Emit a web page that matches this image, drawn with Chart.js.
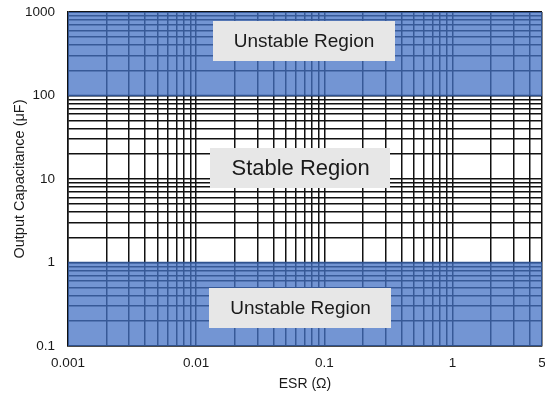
<!DOCTYPE html>
<html>
<head>
<meta charset="utf-8">
<script src="https://cdn.jsdelivr.net/npm/chart.js@4"></script>
<style>
  html, body { margin: 0; padding: 0; background: #fff; }
  #wrap { width: 545px; height: 396px; position: relative; }
</style>
</head>
<body>
<div id="wrap"><canvas id="c"></canvas></div>
<script>
// Axis extents: ESR in ohms, output capacitance in µF
const esrRange = [0.001, 5];
const capRange = [0.1, 1000];

// Capacitance bands where the regulator is unstable
const unstableHigh = [100, 1000];
const unstableLow = [0.1, 1];

// Log grid positions (every 1..9 per decade)
const esrGrid = [
  0.001, 0.002, 0.003, 0.004, 0.005, 0.006, 0.007, 0.008, 0.009,
  0.01, 0.02, 0.03, 0.04, 0.05, 0.06, 0.07, 0.08, 0.09,
  0.1, 0.2, 0.3, 0.4, 0.5, 0.6, 0.7, 0.8, 0.9,
  1, 2, 3, 4, 5
];
const capGrid = [
  0.1, 0.2, 0.3, 0.4, 0.5, 0.6, 0.7, 0.8, 0.9,
  1, 2, 3, 4, 5, 6, 7, 8, 9,
  10, 20, 30, 40, 50, 60, 70, 80, 90,
  100, 200, 300, 400, 500, 600, 700, 800, 900,
  1000
];

// Labelled ticks
const esrLabels = ['0.001', '0.01', '0.1', '1', '5'];
const capLabels = ['0.1', '1', '10', '100', '1000'];

// Region captions
const regionNames = ['Unstable Region', 'Stable Region', 'Unstable Region'];

const FONT = '"Liberation Sans", Arial, sans-serif';
const BAND_FILL = 'rgba(68, 114, 196, 0.75)';
const BAND_EDGE = '#2F528F';

function bandShape(xr, yr) {
  return [
    { x: xr[0], y: yr[0] },
    { x: xr[0], y: yr[1] },
    { x: xr[1], y: yr[1] },
    { x: xr[1], y: yr[0] },
    { x: xr[0], y: yr[0] }
  ];
}

function labelFor(list) {
  return (value) => {
    const hit = list.find(s => Math.abs(parseFloat(s) - value) < value * 1e-6);
    return hit === undefined ? '' : hit;
  };
}

// Captions anchored at data coordinates, drawn as grey boxes
const regionBoxes = {
  id: 'regionBoxes',
  afterDatasetsDraw(chart, args, opts) {
    const { ctx, scales: { x, y } } = chart;
    ctx.save();
    opts.items.forEach((it, i) => {
      const cx = x.getPixelForValue(it.x);
      const cy = y.getPixelForValue(it.y);
      ctx.font = it.size + 'px ' + FONT;
      const tw = ctx.measureText(regionNames[i]).width;
      const w = tw + 2 * it.padX;
      const h = it.height;
      ctx.fillStyle = '#E7E7E7';
      ctx.fillRect(Math.round(cx - w / 2), Math.round(cy - h / 2), Math.round(w), Math.round(h));
      ctx.fillStyle = '#1a1a1a';
      ctx.textAlign = 'center';
      ctx.textBaseline = 'middle';
      ctx.fillText(regionNames[i], cx, cy + 1);
    });
    ctx.restore();
  }
};

new Chart(document.getElementById('c'), {
  type: 'scatter',
  data: {
    datasets: [
      {
        data: bandShape(esrRange, unstableHigh),
        showLine: true,
        fill: 'shape',
        backgroundColor: BAND_FILL,
        borderColor: BAND_EDGE,
        borderWidth: 1.5,
        pointRadius: 0,
        tension: 0
      },
      {
        data: bandShape(esrRange, unstableLow),
        showLine: true,
        fill: 'shape',
        backgroundColor: BAND_FILL,
        borderColor: BAND_EDGE,
        borderWidth: 1.5,
        pointRadius: 0,
        tension: 0
      }
    ]
  },
  options: {
    responsive: true,
    maintainAspectRatio: false,
    animation: false,
    events: [],
    layout: { padding: { top: 12, right: 3, left: 0, bottom: 0 } },
    plugins: {
      legend: { display: false },
      tooltip: { enabled: false },
      regionBoxes: {
        items: [
          { x: 0.0695, y: 452, size: 19, padX: 21, height: 40 },
          { x: 0.0653, y: 13.6, size: 22, padX: 21, height: 40 },
          { x: 0.0653, y: 0.287, size: 19, padX: 21, height: 40 }
        ]
      }
    },
    scales: {
      x: {
        type: 'logarithmic',
        min: esrRange[0],
        max: esrRange[1],
        afterBuildTicks: (s) => { s.ticks = esrGrid.map(v => ({ value: v })); },
        afterFit: (s) => { s.height = 50; s.paddingLeft = 0; s.paddingRight = 0; },
        grid: { color: '#111', lineWidth: 1.5, drawTicks: false },
        border: { display: true, color: '#111', width: 1.5 },
        ticks: {
          autoSkip: false, maxRotation: 0, padding: 9,
          color: '#1a1a1a', font: { family: FONT, size: 13.5 },
          callback: labelFor(esrLabels)
        },
        title: {
          display: true, text: 'ESR (Ω)', color: '#1a1a1a',
          font: { family: FONT, size: 14 }, padding: { top: 0, bottom: 3 }
        }
      },
      y: {
        type: 'logarithmic',
        min: capRange[0],
        max: capRange[1],
        afterBuildTicks: (s) => { s.ticks = capGrid.map(v => ({ value: v })); },
        afterFit: (s) => { s.width = 68; s.paddingTop = 0; s.paddingBottom = 0; },
        grid: { color: '#111', lineWidth: 1.5, drawTicks: false },
        border: { display: true, color: '#111', width: 1.5 },
        ticks: {
          autoSkip: false, padding: 13,
          color: '#1a1a1a', font: { family: FONT, size: 13.5 },
          callback: labelFor(capLabels)
        },
        title: {
          display: true, text: 'Output Capacitance (μF)', color: '#1a1a1a',
          font: { family: FONT, size: 14.5 }, padding: { top: 11, bottom: 0 }
        }
      }
    }
  },
  plugins: [regionBoxes]
});
</script>
</body>
</html>
